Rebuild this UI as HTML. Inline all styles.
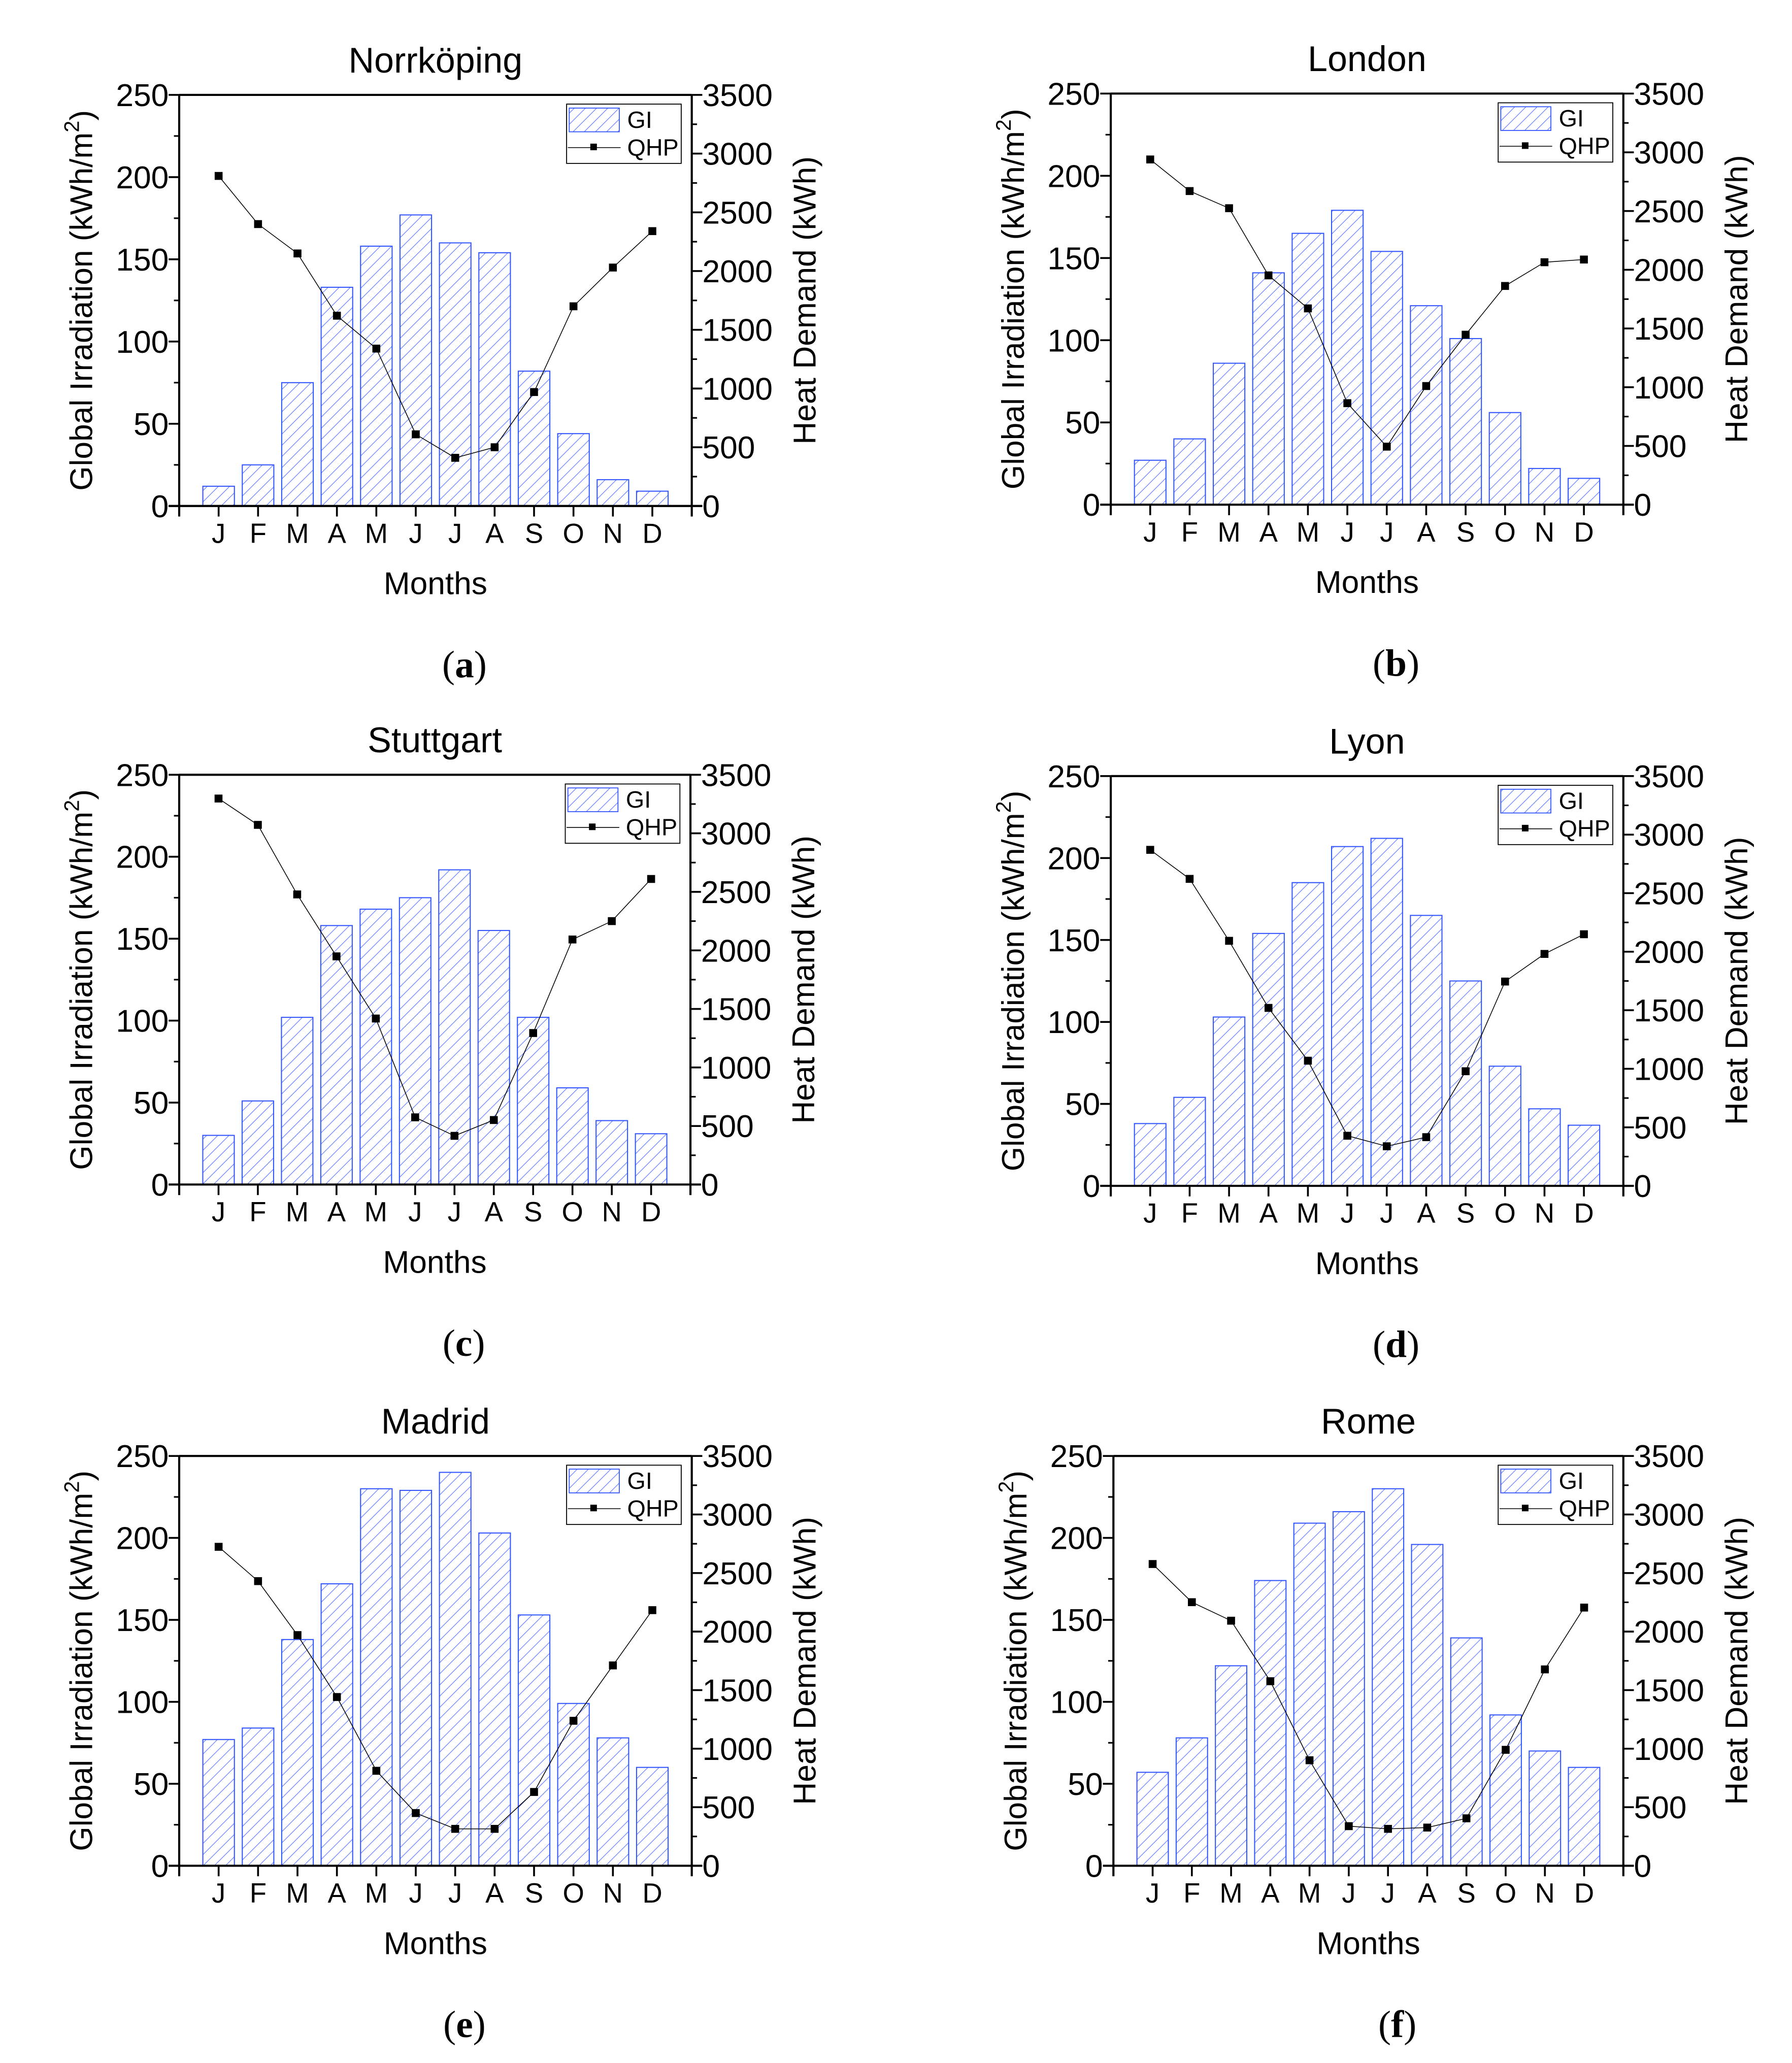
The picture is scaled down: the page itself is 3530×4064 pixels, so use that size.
<!DOCTYPE html>
<html><head><meta charset="utf-8"><style>
html,body{margin:0;padding:0;background:#fff}
svg{display:block}
text{font-family:"Liberation Sans",Arial,sans-serif;fill:#000}
text.serif{font-family:"Liberation Serif","Times New Roman",serif}
</style></head><body>
<svg id="chart" xmlns="http://www.w3.org/2000/svg" width="3530" height="4064" viewBox="0 0 1360 1565.7">
<defs>
<pattern id="hatch" patternUnits="userSpaceOnUse" width="6" height="6" patternTransform="rotate(45)">
<rect width="6" height="6" fill="#fff"/>
<line x1="0" y1="0" x2="0" y2="6" stroke="#5a78ff" stroke-width="0.9"/>
</pattern>
</defs>
</svg>
<script>
const months = ["J","F","M","A","M","J","J","A","S","O","N","D"];
const cities = ["Norrköping","London","Stuttgart","Lyon","Madrid","Rome"];
const panelLetters = ["(a)","(b)","(c)","(d)","(e)","(f)"];
const giNorrkoping = [12,25,75,133,158,177,160,154,82,44,16,9];
const qhpNorrkoping = [2810,2400,2150,1620,1340,610,410,500,970,1700,2030,2340];
const giLondon = [27,40,86,141,165,179,154,121,101,56,22,16];
const qhpLondon = [2939,2670,2524,1952,1671,864,494,1010,1447,1862,2064,2087];
const giStuttgart = [30,51,102,158,168,175,192,155,102,59,39,31];
const qhpStuttgart = [3297,3072,2478,1949,1418,574,416,551,1294,2093,2250,2610];
const giLyon = [38,54,103,154,185,207,212,165,125,73,47,37];
const qhpLyon = [2870,2622,2093,1520,1069,428,338,416,979,1745,1981,2149];
const giMadrid = [77,84,138,172,230,229,240,203,153,99,78,60];
const qhpMadrid = [2724,2431,1970,1441,811,450,315,315,630,1238,1711,2183];
const giRome = [57,78,122,174,209,216,230,196,139,92,70,60];
const qhpRome = [2577,2251,2093,1576,901,338,315,326,405,990,1677,2205];
const leftTicks = [0,50,100,150,200,250];
const rightTicks = [0,500,1000,1500,2000,2500,3000,3500];
const giSeries = [giNorrkoping,giLondon,giStuttgart,giLyon,giMadrid,giRome];
const qhpSeries = [qhpNorrkoping,qhpLondon,qhpStuttgart,qhpLyon,qhpMadrid,qhpRome];

const NS="http://www.w3.org/2000/svg";
const svg=document.getElementById('chart');
function mk(tag,attrs,parent){const e=document.createElementNS(NS,tag);for(const k in attrs)e.setAttribute(k,attrs[k]);(parent||svg).appendChild(e);return e;}

const boxes=[[136,525,72,384],[843,1232,71,383],[136,524,588,899],[843,1232,589,900],[136,525,1105,1416],[845,1232,1105,1416]];

for(let p=0;p<6;p++){
  const [L,R,T,B]=boxes[p];
  const g=mk('g',{});
  
  
  const cx=(L+R)/2;
  const w=(R-L)/13;
  const xs=i=>L+(i+1)*w;
  const yl=v=>B-(v/250)*(B-T);
  const yr=v=>B-(v/3500)*(B-T);
  giSeries[p].forEach((v,i)=>{
    const r=mk('rect',{x:xs(i)-w*0.4,y:yl(v),width:w*0.8,height:B-yl(v),fill:'url(#hatch)',stroke:'#3355ff','stroke-width':0.8},g);
    
    
  });
  const pts=qhpSeries[p].map((v,i)=>xs(i)+','+yr(v)).join(' ');
  const pl=mk('polyline',{points:pts,fill:'none',stroke:'#000','stroke-width':0.6},g);
  
  
  qhpSeries[p].forEach((v,i)=>{
    const m=mk('rect',{x:xs(i)-3,y:yr(v)-3,width:6,height:6,fill:'#000'},g);
    
    
  });
  mk('line',{x1:L,y1:T,x2:R,y2:T,stroke:'#000','stroke-width':1.6},g);
  mk('line',{x1:L,y1:T,x2:L,y2:B+8,stroke:'#000','stroke-width':1.6},g);
  mk('line',{x1:R,y1:T,x2:R,y2:B+8,stroke:'#000','stroke-width':1.6},g);
  mk('line',{x1:L-8,y1:B,x2:R+8,y2:B,stroke:'#000','stroke-width':1.6},g);
  leftTicks.forEach(v=>{
    mk('line',{x1:L-8,y1:yl(v),x2:L,y2:yl(v),stroke:'#000','stroke-width':1.4},g);
    const t=mk('text',{x:L-8,y:yl(v)+8.5,'text-anchor':'end','font-size':24},g);t.textContent=v;
    
    
    if(v<250) mk('line',{x1:L-4,y1:yl(v+25),x2:L,y2:yl(v+25),stroke:'#000','stroke-width':1.2},g);
  });
  rightTicks.forEach(v=>{
    mk('line',{x1:R,y1:yr(v),x2:R+8,y2:yr(v),stroke:'#000','stroke-width':1.4},g);
    const t=mk('text',{x:R+8,y:yr(v)+8.5,'font-size':24},g);t.textContent=v;
    
    
    if(v<3500) mk('line',{x1:R,y1:yr(v+250),x2:R+4,y2:yr(v+250),stroke:'#000','stroke-width':1.2},g);
  });
  months.forEach((m,i)=>{
    mk('line',{x1:xs(i),y1:B,x2:xs(i),y2:B+8,stroke:'#000','stroke-width':1.4},g);
    const t=mk('text',{x:xs(i),y:B+28,'text-anchor':'middle','font-size':21},g);t.textContent=m;
    
    
  });
  const tt=mk('text',{x:cx,y:T-17,'text-anchor':'middle','font-size':27},g);tt.textContent=cities[p];
  
  
  const xt=mk('text',{x:cx,y:B+67,'text-anchor':'middle','font-size':24},g);xt.textContent='Months';
  
  
  const ly=mk('text',{transform:`translate(${L-66},${(T+B)/2}) rotate(-90)`,'text-anchor':'middle','font-size':24},g);
  ly.innerHTML='Global Irradiation (kWh/m<tspan font-size="16" dy="-10">2</tspan><tspan dy="10">)</tspan>';
  
  
  const ry=mk('text',{transform:`translate(${R+94},${(T+B)/2}) rotate(-90)`,'text-anchor':'middle','font-size':24},g);
  ry.textContent='Heat Demand (kWh)';
  
  
  const pl2=mk('text',{x:cx+22,y:B+130,'text-anchor':'middle','font-size':29,'class':'serif'},g);
  pl2.innerHTML='(<tspan font-weight="bold">'+panelLetters[p].slice(1,2)+'</tspan>)';
  
  
  const lg=mk('g',{},g);
  
  
  const lx=R-95, ly0=T+7;
  mk('rect',{x:lx,y:ly0,width:87,height:45,fill:'#fff',stroke:'#000','stroke-width':0.7},lg);
  mk('rect',{x:lx+2,y:ly0+3,width:38,height:18,fill:'url(#hatch)',stroke:'#3355ff','stroke-width':0.7},lg);
  mk('line',{x1:lx+1,y1:ly0+33,x2:lx+41,y2:ly0+33,stroke:'#000','stroke-width':0.6},lg);
  mk('rect',{x:lx+18,y:ly0+30,width:5,height:5,fill:'#000'},lg);
  const a=mk('text',{x:lx+46,y:ly0+18,'font-size':18},lg);a.textContent='GI';
  const b=mk('text',{x:lx+46,y:ly0+39,'font-size':18},lg);b.textContent='QHP';
}
</script>
</body></html>
